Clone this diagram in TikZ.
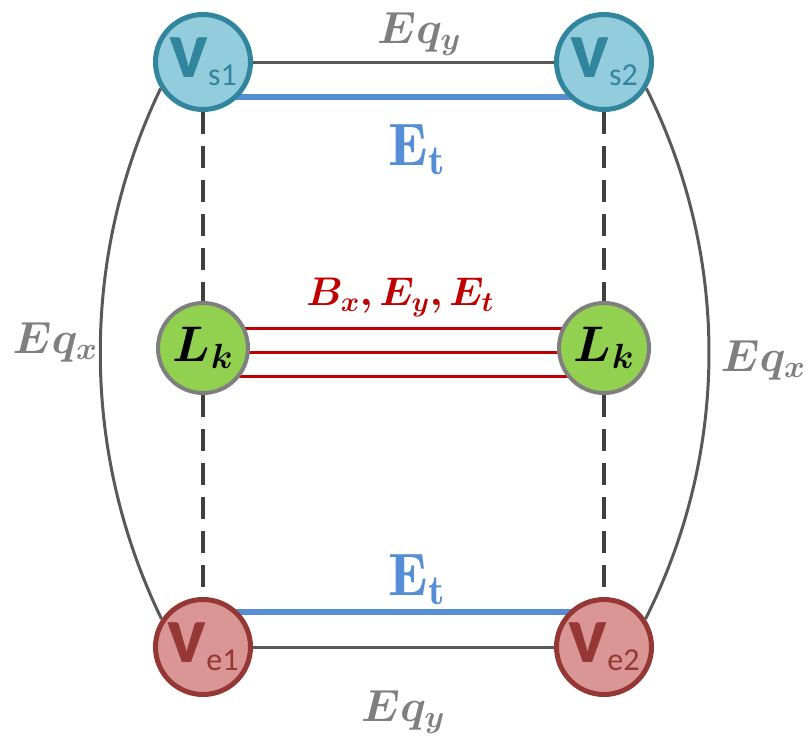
\documentclass[tikz,border=0pt]{standalone}
\usepackage{fix-cm}
\usepackage{fontspec}
\usepackage{bm}
\newfontfamily\carlito{Carlito}
\usetikzlibrary{backgrounds}
\definecolor{bfill}{HTML}{93CDDD}
\definecolor{bdraw}{HTML}{31859C}
\definecolor{gfill}{HTML}{92D050}
\definecolor{gdraw}{HTML}{7F7F7F}
\definecolor{rfill}{HTML}{D99694}
\definecolor{rdraw}{HTML}{953735}
\definecolor{blueline}{HTML}{558ED5}
\definecolor{redline}{HTML}{C00000}
\definecolor{greyline}{HTML}{595959}
\definecolor{greytext}{HTML}{7F7F7F}
\definecolor{dashline}{HTML}{404040}
\tikzset{
  vnode/.style={circle, minimum size=95pt, inner sep=0pt, line width=5pt},
  snode/.style={vnode, fill=bfill, draw=bdraw, text=bdraw},
  enode/.style={vnode, fill=rfill, draw=rdraw, text=rdraw},
  lnode/.style={circle, minimum size=90pt, inner sep=0pt, line width=4pt, fill=gfill, draw=gdraw},
  plain/.style={draw=greyline, line width=3pt},
  bline/.style={draw=blueline, line width=6pt},
  rline/.style={draw=redline, line width=3pt},
  dline/.style={draw=dashline, line width=4.5pt, dash pattern=on 22pt off 12pt},
  eqlab/.style={text=greytext, font=\fontsize{45}{45}\selectfont},
  etlab/.style={text=blueline, font=\fontsize{60}{60}\selectfont},
}
\newcommand{\vlab}[2]{{\carlito\fontsize{82}{82}\selectfont\bfseries #1}\raisebox{-8pt}{\carlito\fontsize{32}{32}\selectfont #2}}
\begin{document}
\begin{tikzpicture}[x=1pt, y=-1pt]
\useasboundingbox (0,0) rectangle (807,739);
\node[snode] (s1) at (203,62) {\vlab{v}{s1}};
\node[snode] (s2) at (604,62) {\vlab{v}{s2}};
\node[lnode] (l1) at (203,348) {\fontsize{50}{50}\selectfont$\bm{L_k}$};
\node[lnode] (l2) at (604,348) {\fontsize{50}{50}\selectfont$\bm{L_k}$};
\node[enode] (e1) at (203,647) {\vlab{v}{e1}};
\node[enode] (e2) at (604,647) {\vlab{v}{e2}};
\begin{scope}[on background layer]
  \draw[bline] ([yshift=-35pt]s1.center) -- ([yshift=-35pt]s2.center);
  \draw[bline] ([yshift=35pt]e1.center) -- ([yshift=35pt]e2.center);
  \draw[rline] ([yshift=20pt]l1.center) -- ([yshift=20pt]l2.center);
  \draw[rline] ([yshift=-4pt]l1.center) -- ([yshift=-4pt]l2.center);
  \draw[rline] ([yshift=-28pt]l1.center) -- ([yshift=-28pt]l2.center);
\end{scope}
\draw[plain] (s1.east) -- (s2.west);
\draw[plain] (e1.east) -- (e2.west);
\draw[plain] (s1.212) .. controls (80,256) and (80,451) .. (e1.146);
\draw[plain] (s2.328) .. controls (730,256) and (730,451) .. (e2.34);
\draw[dline] (s1.south) -- (l1.north);
\draw[dline] (l1.south) -- (e1.north);
\draw[dline] (s2.south) -- (l2.north);
\draw[dline] (l2.south) -- (e2.north);
\node[eqlab] (qy1) at (419,34) {$\bm{Eq_y}$};
\node[eqlab] (qy2) at (403,712) {$\bm{Eq_y}$};
\node[eqlab] (qx1) at (55,342) {$\bm{Eq_x}$};
\node[eqlab] (qx2) at (763,360) {$\bm{Eq_x}$};
\node[etlab] (et1) at (417,150) {$\mathbf{E_t}$};
\node[etlab] (et2) at (417,580) {$\mathbf{E_t}$};
\node[text=redline, font=\fontsize{40}{40}\selectfont] (bl) at (400,297) {$\bm{B_x, E_y, E_t}$};
\end{tikzpicture}
\end{document}
